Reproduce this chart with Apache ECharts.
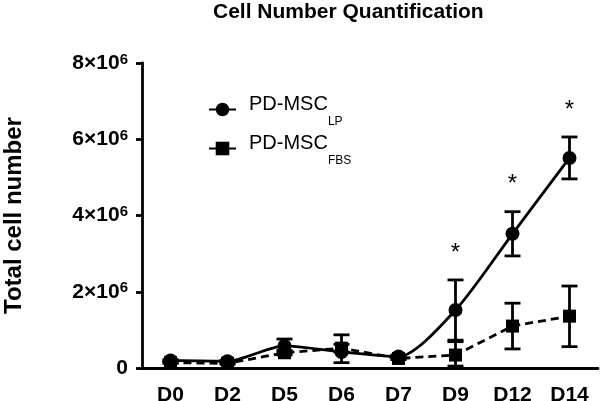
<!DOCTYPE html>
<html><head><meta charset="utf-8">
<script src="https://cdn.jsdelivr.net/npm/echarts@6/dist/echarts.min.js"></script>
<style>html,body{margin:0;padding:0;background:#fff}#c{width:600px;height:401px}</style>
</head><body><div id="c"></div>
<script>
var categories = ['D0','D2','D5','D6','D7','D9','D12','D14'];
var lpMean = [0.20e6, 0.18e6, 0.58e6, 0.42e6, 0.30e6, 1.52e6, 3.52e6, 5.51e6];
var lpHigh = [0.22e6, 0.20e6, 0.76e6, 0.87e6, 0.34e6, 2.31e6, 4.10e6, 6.06e6];
var lpLow  = [0.18e6, 0.16e6, 0.40e6, 0.14e6, 0.26e6, 0.73e6, 2.94e6, 4.96e6];
var fbsMean = [0.14e6, 0.12e6, 0.40e6, 0.52e6, 0.25e6, 0.34e6, 1.10e6, 1.36e6];
var fbsHigh = [0.16e6, 0.14e6, 0.46e6, 0.62e6, 0.28e6, 0.69e6, 1.70e6, 2.15e6];
var fbsLow  = [0.12e6, 0.10e6, 0.34e6, 0.42e6, 0.22e6, 0.05e6, 0.50e6, 0.56e6];
var significance = ['', '', '', '', '', '*', '*', '*'];
var yTicks = ['0', '2×10', '4×10', '6×10', '8×10'];
var yTickExp = '6';

var FONT = '"Liberation Sans", Arial, Helvetica, sans-serif';
function errData(mean, low, high){
  return mean.map(function(m,i){ return [i, low[i], high[i], significance[i]]; });
}
function errRender(showSig){
  return function(params, api){
    var x = api.value(0);
    var lo = api.coord([x, api.value(1)]);
    var hi = api.coord([x, api.value(2)]);
    var w = 8;
    var st = {stroke:'#000', lineWidth:2.8};
    var children = [
      {type:'line', shape:{x1:lo[0], y1:lo[1], x2:hi[0], y2:hi[1]}, style:st},
      {type:'line', shape:{x1:hi[0]-w, y1:hi[1], x2:hi[0]+w, y2:hi[1]}, style:st},
      {type:'line', shape:{x1:lo[0]-w, y1:lo[1], x2:lo[0]+w, y2:lo[1]}, style:st}
    ];
    var sig = api.value(3);
    if (showSig && sig) {
      children.push({type:'text', style:{text: sig, x: hi[0], y: hi[1]-27, align:'center', verticalAlign:'middle', font:'24px ' + FONT, fill:'#000'}});
    }
    return {type:'group', children: children};
  };
}

var chart = echarts.init(document.getElementById('c'), null, {renderer:'canvas'});
chart.setOption({
  animation:false,
  backgroundColor:'#fff',
  title:{text:'Cell Number Quantification', left:208, top:-3,
    textStyle:{fontFamily:FONT, fontWeight:'bold', fontSize:21, color:'#000'}},
  legend:{
    orient:'vertical', left:203, top:89, itemGap:5, itemWidth:27, itemHeight:17,
    data:['PD-MSC_LP','PD-MSC_FBS'],
    lineStyle:{type:'solid'},
    formatter:function(n){ var p=n.split('_'); return '{a|'+p[0]+'}{s|'+p[1]+'}'; },
    textStyle:{fontFamily:FONT, color:'#000', padding:[0,0,0,8],
      rich:{a:{fontFamily:FONT, fontSize:20, color:'#000', verticalAlign:'top', padding:[3,0,11,0]},
            s:{fontFamily:FONT, fontSize:12, color:'#000', lineHeight:37, verticalAlign:'bottom'}}}
  },
  grid:{left:142, right:2, top:63, bottom:33, outerBoundsMode:'none', containLabel:false},
  xAxis:{type:'category', data:categories, boundaryGap:true,
    axisLine:{lineStyle:{color:'#000', width:2.8}},
    axisTick:{alignWithLabel:true, length:6, lineStyle:{color:'#000', width:2.8}},
    axisLabel:{fontFamily:FONT, fontWeight:'bold', fontSize:21, color:'#000', margin:17}},
  yAxis:{type:'value', min:0, max:8e6, interval:2e6,
    name:'Total cell number', nameLocation:'middle', nameGap:116, nameRotate:90,
    nameTextStyle:{fontFamily:FONT, fontWeight:'bold', fontSize:24, color:'#000'},
    axisLine:{show:true, lineStyle:{color:'#000', width:2.8}},
    axisTick:{show:true, length:6, lineStyle:{color:'#000', width:2.8}},
    splitLine:{show:false},
    axisLabel:{margin:14, formatter:function(v){ var i=Math.round(v/2e6); return i===0 ? '{b|0}' : '{b|'+yTicks[i]+'}{p|'+yTickExp+'}'; },
      rich:{b:{fontFamily:FONT, fontWeight:'bold', fontSize:21, color:'#000', lineHeight:22, verticalAlign:'middle'},
            p:{fontFamily:FONT, fontWeight:'bold', fontSize:15, color:'#000', verticalAlign:'top'}}}},
  series:[
    {name:'PD-MSC_LP', type:'line', data:lpMean, smooth:0.25, symbol:'circle', symbolSize:14,
      lineStyle:{color:'#000', width:2.8}, itemStyle:{color:'#000'}, z:3},
    {name:'PD-MSC_FBS', type:'line', data:fbsMean, symbol:'rect', symbolSize:13,
      lineStyle:{color:'#000', width:2.8, type:[8,5]}, itemStyle:{color:'#000'}, z:4},
    {type:'custom', data:errData(lpMean, lpLow, lpHigh), renderItem:errRender(true), z:2, silent:true},
    {type:'custom', data:errData(fbsMean, fbsLow, fbsHigh), renderItem:errRender(false), z:2, silent:true}
  ]
});
</script></body></html>
